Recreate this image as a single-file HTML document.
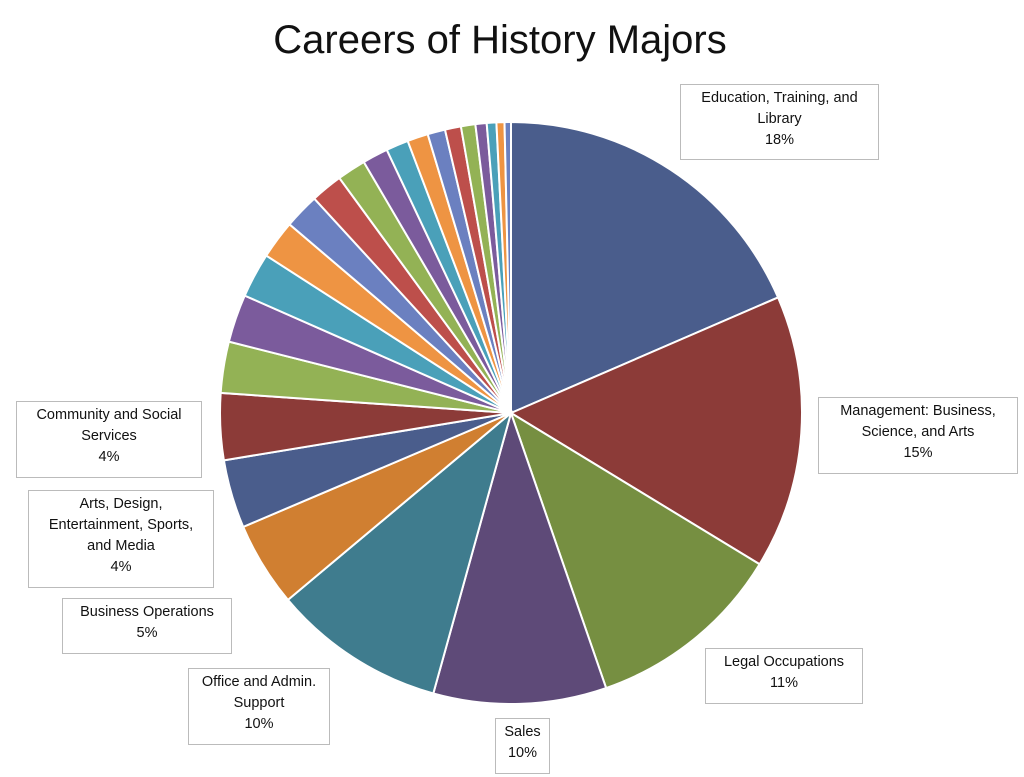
<!DOCTYPE html>
<html><head><meta charset="utf-8"><style>
body{margin:0;background:#fff;width:1024px;height:777px;overflow:hidden;font-family:"Liberation Sans",sans-serif}
.t{position:absolute;left:0;width:1000px;top:18px;text-align:center;font-size:40px;color:#111}
.b{position:absolute;border:1px solid #bbb;background:#fff;font-size:14.5px;line-height:21px;text-align:center;color:#111;box-sizing:border-box;padding-top:3px}
</style></head><body>
<div class="t">Careers of History Majors</div>
<svg id="s" width="1024" height="777" style="position:absolute;left:0;top:0"></svg>
<div class="b" style="left:680px;top:84px;width:199px;height:76px">Education, Training, and<br>Library<br>18%</div>
<div class="b" style="left:818px;top:397px;width:200px;height:77px">Management: Business,<br>Science, and Arts<br>15%</div>
<div class="b" style="left:705px;top:648px;width:158px;height:56px">Legal Occupations<br>11%</div>
<div class="b" style="left:495px;top:718px;width:55px;height:56px">Sales<br>10%</div>
<div class="b" style="left:188px;top:668px;width:142px;height:77px">Office and Admin.<br>Support<br>10%</div>
<div class="b" style="left:62px;top:598px;width:170px;height:56px">Business Operations<br>5%</div>
<div class="b" style="left:28px;top:490px;width:186px;height:98px">Arts, Design,<br>Entertainment, Sports,<br>and Media<br>4%</div>
<div class="b" style="left:16px;top:401px;width:186px;height:77px">Community and Social<br>Services<br>4%</div>
<script>
var cx=511,cy=413,r=291;
var main=[18.5,15.2,11,9.6,9.6,4.7,3.8,3.7];
var small=[3.2,3.0,2.8,2.4,2.2,2.0,1.8,1.6,1.4,1.3,1.1,1.0,0.9,0.7,0.6,0.5,0.4];
var ss=small.reduce((a,b)=>a+b,0),rest=100-main.reduce((a,b)=>a+b,0);
var vals=main.concat(small.map(v=>v*rest/ss));
var base=["#4a5d8c","#8c3b38","#768f41","#5e4a78","#3f7c8e","#d07f31"];
var light=["#6b80c0","#bd4f4b","#93b255","#7b5b9c","#4aa0b9","#ee9443"];
var s="",a=0;
function pt(p){var t=p/100*2*Math.PI;return [cx+r*Math.sin(t),cy-r*Math.cos(t)];}
vals.forEach(function(v,i){
 var c=i<8?base[i%6]:light[i%6];
 var p0=pt(a),p1=pt(a+v);a+=v;
 s+='<path d="M'+cx+','+cy+'L'+p0[0]+','+p0[1]+'A'+r+','+r+' 0 '+(v>50?1:0)+' 1 '+p1[0]+','+p1[1]+'Z" fill="'+c+'" stroke="#fff" stroke-width="2"/>';
});
document.getElementById("s").innerHTML=s;
</script>
</body></html>
